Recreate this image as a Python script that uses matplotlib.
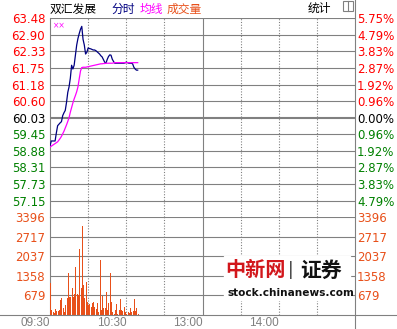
import numpy as np
import matplotlib.pyplot as plt
from matplotlib.patches import Rectangle
from matplotlib.lines import Line2D

# minute data from 09:30 (one value per minute)
price = [59.05, 59.22, 59.22, 59.22, 59.22, 59.50, 59.75, 59.80, 59.85, 59.89,
         60.10, 60.20, 60.28, 60.56, 60.91, 61.10, 61.40, 61.85, 61.72, 61.85,
         62.20, 62.55, 62.78, 62.95, 63.10, 63.20, 62.75, 62.55, 62.24, 62.30,
         62.45, 62.43, 62.42, 62.40, 62.38, 62.38, 62.36, 62.32, 62.28, 62.24,
         62.18, 62.14, 62.05, 61.96, 61.92, 62.05, 62.15, 62.21, 62.20, 62.06,
         61.98, 61.92, 61.92, 61.92, 61.92, 61.92, 61.92, 61.92, 61.92, 61.93,
         61.96, 61.94, 61.92, 61.92, 61.92, 61.90, 61.78, 61.72, 61.68, 61.68]
avg_price = [59.01, 59.04, 59.07, 59.10, 59.13, 59.16, 59.19, 59.25, 59.31, 59.38,
             59.47, 59.56, 59.67, 59.78, 59.90, 60.03, 60.22, 60.38, 60.54, 60.68,
             60.80, 60.93, 61.10, 61.38, 61.65, 61.77, 61.78, 61.78, 61.78, 61.79,
             61.80, 61.81, 61.82, 61.83, 61.84, 61.85, 61.86, 61.87, 61.88, 61.89,
             61.90, 61.90, 61.91, 61.91, 61.92, 61.92, 61.92, 61.92, 61.92, 61.92,
             61.93, 61.94, 61.94, 61.94, 61.94, 61.94, 61.94, 61.94, 61.94, 61.94,
             61.94, 61.94, 61.94, 61.94, 61.94, 61.94, 61.94, 61.94, 61.94, 61.94]
volume = [1100, 170, 100, 60, 200, 150, 150, 170, 510, 580,
          250, 100, 340, 580, 1440, 620, 620, 920, 620, 720,
          1650, 720, 700, 2300, 920, 3090, 1030, 580, 1130, 450,
          340, 380, 280, 400, 450, 280, 200, 400, 100, 1890,
          170, 650, 250, 230, 790, 170, 430, 1440, 450, 100,
          50, 170, 370, 50, 170, 550, 170, 130, 280, 100,
          50, 100, 80, 250, 100, 130, 550, 130, 230, 30]

prev_close = 60.03
price_ticks = [63.48, 62.90, 62.33, 61.75, 61.18, 60.60, 60.03, 59.45, 58.88, 58.31, 57.73, 57.15]
pct_labels = ['5.75%', '4.79%', '3.83%', '2.87%', '1.92%', '0.96%', '0.00%',
              '0.96%', '1.92%', '2.87%', '3.83%', '4.79%']
price_bottom = 56.58
vol_ticks = [3396, 2717, 2037, 1358, 679]
time_ticks = [0, 60, 120, 180]
time_labels = ['09:30', '10:30', '13:00', '14:00']

W, H = 397, 329
def fx(px):
    return px / W
def fy(py):
    return 1 - py / H

GRID = '#808080'
ORANGE = '#E8501A'
FONT = ['DejaVu Sans']
CJK = ['Noto Sans CJK SC', 'DejaVu Sans']

fig = plt.figure(figsize=(W / 100, H / 100), dpi=100)
ax = fig.add_axes([fx(50), fy(217), fx(355) - fx(50), fy(18.3) - fy(217)])
axv = fig.add_axes([fx(50), fy(315), fx(355) - fx(50), fy(217) - fy(315)])

minutes = np.arange(len(price))

# price panel
ax.set_xlim(0, 240)
ax.set_ylim(price_bottom, price_ticks[0])
for v in price_ticks:
    ax.axhline(v, color=GRID, lw=1.5 if v == prev_close else 0.8, zorder=1)
ax.plot(minutes, price, color='#000080', lw=0.9, zorder=3)
ax.plot(minutes, avg_price, color='#FF00FF', lw=0.9, zorder=3)

def tick_color(v):
    if v > prev_close:
        return 'red'
    if v < prev_close:
        return 'green'
    return 'black'

ax.set_yticks(price_ticks)
ax.set_yticklabels(['%.2f' % v for v in price_ticks], fontsize=8.5, family=FONT)
for lab, v in zip(ax.get_yticklabels(), price_ticks):
    lab.set_color(tick_color(v))
ax.tick_params(axis='y', length=0, pad=3.5)
ax.set_xticks([])

axr = ax.twinx()
axr.set_ylim(ax.get_ylim())
axr.set_yticks(price_ticks)
axr.set_yticklabels(pct_labels, fontsize=8.5, family=FONT)
for lab, v in zip(axr.get_yticklabels(), price_ticks):
    lab.set_color(tick_color(v))
axr.tick_params(axis='y', length=0, pad=1.5)

# volume panel
axv.set_xlim(0, 240)
axv.set_ylim(0, vol_ticks[0])
for v in vol_ticks:
    axv.axhline(v, color=GRID, lw=1.5 if v == vol_ticks[0] else 0.8, zorder=1)
axv.bar(minutes + 0.4, volume, width=0.8, color=ORANGE, zorder=3)
axv.set_yticks(vol_ticks)
axv.set_yticklabels([str(v) for v in vol_ticks], fontsize=8.5, family=FONT, color=ORANGE)
axv.tick_params(axis='y', length=0, pad=3.5)
axv.set_xticks(time_ticks)
axv.set_xticklabels(time_labels, fontsize=8.5, family=['Liberation Sans'], color=GRID, ha='right')
axv.tick_params(axis='x', length=0, pad=1.5)

axvr = axv.twinx()
axvr.set_ylim(axv.get_ylim())
axvr.set_yticks(vol_ticks)
axvr.set_yticklabels([str(v) for v in vol_ticks], fontsize=8.5, family=FONT, color=ORANGE)
axvr.tick_params(axis='y', length=0, pad=1.5)

for a in [ax, axv]:
    for m in [30, 60, 90, 150, 180, 210]:
        a.axvline(m, color=GRID, lw=0.8, ls=(0, (1, 1.5)), zorder=1)
    a.axvline(120, color=GRID, lw=0.8, zorder=1)
for a in [ax, axr, axv, axvr]:
    for s in a.spines.values():
        s.set_visible(False)
    a.patch.set_alpha(0)
ax.spines['left'].set_visible(True)
ax.spines['left'].set_color(GRID)
axv.spines['left'].set_visible(True)
axv.spines['left'].set_color(GRID)

# frame lines outside the panels
fig.add_artist(Line2D([fx(355), fx(355)], [0, 1], color=GRID, lw=0.8))
fig.add_artist(Line2D([0, 1], [fy(315), fy(315)], color=GRID, lw=0.8))

# header
fig.text(fx(50), fy(9), '双汇发展', family=CJK, fontsize=8.5, va='center', color='black')
fig.text(fx(111), fy(9), '分时', family=CJK, fontsize=8.5, va='center', color='#000080')
fig.text(fx(140), fy(9), '均线', family=CJK, fontsize=8.5, va='center', color='#FF00FF')
fig.text(fx(167), fy(9), '成交量', family=CJK, fontsize=8.5, va='center', color=ORANGE)
fig.text(fx(308), fy(8), '统计', family=CJK, fontsize=8.5, va='center', color='black')
fig.add_artist(Rectangle((fx(343), fy(11)), fx(10), fy(1) - fy(11), fill=False, ec=GRID, lw=0.8))
fig.add_artist(Line2D([fx(348), fx(348)], [fy(11), fy(1)], color=GRID, lw=0.8))
fig.text(fx(53), fy(25.5), '××', fontsize=5.5, va='center', color='#FF00FF')

# watermark
fig.add_artist(Rectangle((fx(224), fy(300)), fx(126), fy(256) - fy(300), color='white', zorder=5))
fig.text(fx(225), fy(270), '中新网', family=CJK, fontsize=14.5, fontweight='bold',
         va='center', color='#D2161B', zorder=6)
fig.text(fx(288), fy(270), '|', family=FONT, fontsize=12, va='center', color='#333333', zorder=6)
fig.text(fx(300), fy(270), '证券', family=CJK, fontsize=15, fontweight='black',
         va='center', color='#111111', zorder=6)
fig.text(fx(227), fy(293.5), 'stock.chinanews.com', family=FONT, fontsize=7.6, fontweight='bold',
         va='center', color='#111111', zorder=6)

fig.savefig('out.png', dpi=100)
